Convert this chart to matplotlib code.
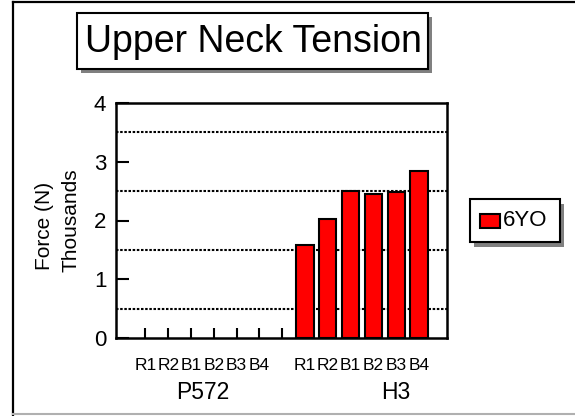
import matplotlib
matplotlib.use('Agg')
import matplotlib.pyplot as plt
from matplotlib.patches import Rectangle
from matplotlib.lines import Line2D

plt.rcParams['font.family'] = ['Liberation Sans', 'DejaVu Sans']

# data
sub_labels = ['R1', 'R2', 'B1', 'B2', 'B3', 'B4']
groups = ['P572', 'H3']
p572_vals = [None, None, None, None, None, None]   # no data
h3_vals = [1.58, 2.02, 2.51, 2.45, 2.48, 2.84]     # thousands of N
series_name = '6YO'

W, H = 575, 416
fig = plt.figure(figsize=(W / 100, H / 100), dpi=100)

# outer frame
fig.add_artist(Line2D([13.5 / W, 13.5 / W], [0.5 / H, 1 - 2 / H], color='black', lw=1.6))
fig.add_artist(Line2D([13.5 / W, 1], [1 - 2 / H, 1 - 2 / H], color='black', lw=1.6))
fig.add_artist(Line2D([13.5 / W, 1], [2 / H, 2 / H], color='#b0b0b0', lw=1.5))

ax = fig.add_axes([116 / W, 1 - 338 / H, (447 - 116) / W, (338 - 103) / H])

# positions: group 1 in slots 0-5, empty slot 6, group 2 in slots 7-12
x1 = list(range(6))
x2 = [i + 7 for i in range(6)]

ax.bar(x2, h3_vals, width=0.75, color='red', edgecolor='black', linewidth=1.5,
       label=series_name, zorder=3)

ax.set_xlim(-1.29, 13.23)
ax.set_ylim(0, 4)
ax.set_yticks([0, 1, 2, 3, 4])
ax.tick_params(axis='y', direction='in', length=9, width=1.5, labelsize=16, pad=7)

ax.set_xticks(range(7))
ax.set_xticklabels([])
ax.tick_params(axis='x', direction='in', length=7, width=1.5)

xt = ax.get_xaxis_transform()
for x, lab in zip(x1 + x2, sub_labels + sub_labels):
    ax.text(x, -0.115, lab, transform=xt, ha='center', va='center', fontsize=12.5)

for g, gx in zip(groups, [2.5, 11]):
    ax.text(gx, -0.92, g, ha='center', va='center', fontsize=16.5)

for y in [0.5, 1.5, 2.5, 3.5]:
    ax.axhline(y, color='black', lw=1.5, ls=(0, (1.2, 0.8)), zorder=1)

for s in ax.spines.values():
    s.set_linewidth(1.8)
    s.set_color('black')

fig.text(45 / W, 1 - 226 / H, 'Force (N)', rotation=90, ha='center', va='center', fontsize=15)
fig.text(71 / W, 1 - 220 / H, 'Thousands', rotation=90, ha='center', va='center', fontsize=15)

# title box with shadow
fig.add_artist(Rectangle((81 / W, 1 - 73 / H), 351 / W, 56 / H, transform=fig.transFigure,
                         facecolor='#808080', edgecolor='none'))
fig.add_artist(Rectangle((77 / W, 1 - 69 / H), 351 / W, 56 / H, transform=fig.transFigure,
                         facecolor='white', edgecolor='black', lw=1.5))
fig.text(253 / W, 1 - 42 / H, 'Upper Neck Tension', ha='center', va='center', fontsize=27)

# legend box with shadow
fig.add_artist(Rectangle((474 / W, 1 - 247 / H), 90 / W, 43 / H, transform=fig.transFigure,
                         facecolor='#808080', edgecolor='none'))
fig.add_artist(Rectangle((470 / W, 1 - 242 / H), 90 / W, 43 / H, transform=fig.transFigure,
                         facecolor='white', edgecolor='black', lw=1.5))
fig.add_artist(Rectangle((480 / W, 1 - 228 / H), 20 / W, 14 / H, transform=fig.transFigure,
                         facecolor='red', edgecolor='black', lw=1.5))
fig.text(503 / W, 1 - 221 / H, series_name, ha='left', va='center', fontsize=16)

fig.savefig('out.png', dpi=100)
